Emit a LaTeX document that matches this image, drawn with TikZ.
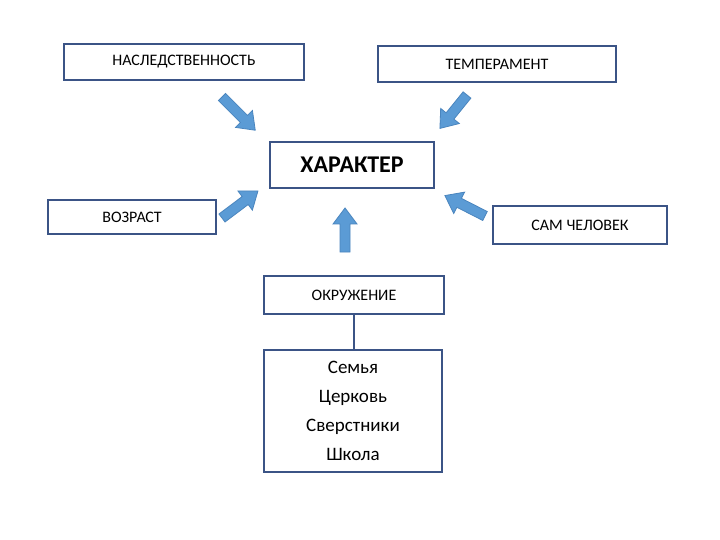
\documentclass[tikz,border=0pt]{standalone}
\usepackage{fontspec}
\setmainfont{Carlito}
\begin{document}
\begin{tikzpicture}[x=1pt,y=-1pt,
  box/.style={draw=boxblue,line width=2.2pt,fill=white,inner sep=0pt},
  barrow/.style={fill=arrfill,draw=arrline,line width=0.8pt,line join=miter}]
\definecolor{boxblue}{HTML}{3B5486}
\definecolor{arrfill}{HTML}{5B9BD5}
\definecolor{arrline}{HTML}{4A85BE}
\useasboundingbox[fill=white] (0,0) rectangle (720,540);
\newcommand\blockarrow[3]{\draw[barrow,shift={#1},rotate=#2] (0,-5) -- (#3-16,-5) -- (#3-16,-12) -- (#3,0) -- (#3-16,12) -- (#3-16,5) -- (0,5) -- cycle;}
\node[box,minimum width=240,minimum height=36,font=\fontsize{16}{18}\selectfont] (her) at (184,62) {НАСЛЕДСТВЕННОСТЬ};
\node[box,minimum width=238,minimum height=36,font=\fontsize{16}{18}\selectfont] (tem) at (497,64) {ТЕМПЕРАМЕНТ};
\node[box,minimum width=164,minimum height=46,font=\bfseries\fontsize{24}{28}\selectfont] (har) at (352,165) {ХАРАКТЕР};
\node[box,minimum width=168,minimum height=34,font=\fontsize{16}{18}\selectfont] (voz) at (132,217) {ВОЗРАСТ};
\node[box,minimum width=174,minimum height=38,font=\fontsize{16}{18}\selectfont] (sam) at (580,225) {САМ ЧЕЛОВЕК};
\node[box,minimum width=180,minimum height=38,font=\fontsize{16}{18}\selectfont] (okr) at (354,295) {ОКРУЖЕНИЕ};
\node[box,minimum width=178,minimum height=122,align=center,font=\fontsize{19}{29}\selectfont] (lst) at (353,411) {Семья\\Церковь\\Сверстники\\Школа};
\draw[draw=boxblue,line width=2pt] (okr.south) -- (okr.south |- lst.north);
\blockarrow{(222,97)}{-45}{47}
\blockarrow{(467,95)}{-129}{43}
\blockarrow{(222,218)}{37}{45}
\blockarrow{(345,252)}{90}{44}
\blockarrow{(485,216)}{153}{45}
\end{tikzpicture}
\end{document}
